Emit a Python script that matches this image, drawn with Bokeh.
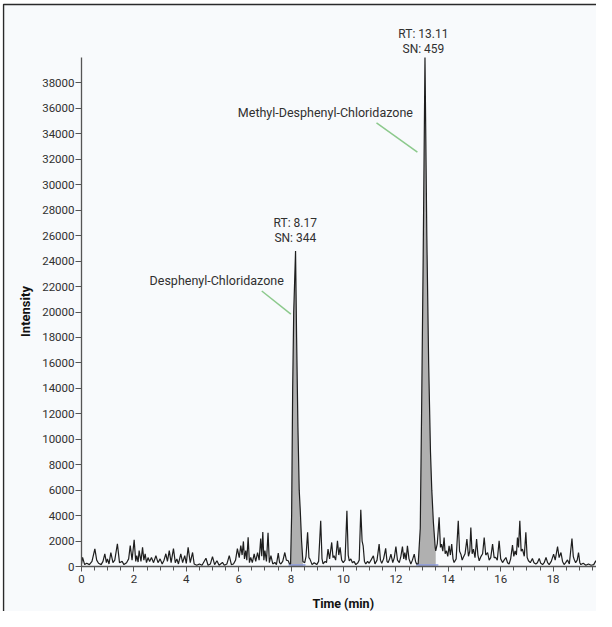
import math
import numpy as np
from bokeh.plotting import figure
from bokeh.models import Range1d, Label, FixedTicker
from bokeh.embed import file_html
from bokeh.resources import INLINE

# ---------------- data ----------------
time_min = [
    0.0, 0.04, 0.12, 0.2, 0.3, 0.4, 0.51, 0.58, 0.65, 0.75, 0.82, 0.89, 0.95, 0.99,
    1.05, 1.12, 1.2, 1.27, 1.37, 1.45, 1.55, 1.62, 1.72, 1.8, 1.86, 1.93,
    2.01, 2.07, 2.11, 2.16, 2.2, 2.27, 2.33, 2.38, 2.43, 2.48, 2.54, 2.6, 2.67, 2.75, 2.84, 2.92,
    3.0, 3.08, 3.15, 3.22, 3.28, 3.35, 3.42, 3.51, 3.58, 3.64, 3.7, 3.79, 3.86, 3.94,
    4.0, 4.07, 4.15, 4.24, 4.3, 4.4, 4.5, 4.6, 4.75, 4.83, 4.92,
    5.0, 5.08, 5.17, 5.25, 5.38, 5.45, 5.55, 5.64, 5.72, 5.8, 5.88, 5.95,
    6.02, 6.08, 6.13, 6.18, 6.22, 6.27, 6.31, 6.36, 6.41, 6.46, 6.52, 6.59, 6.65, 6.72, 6.78, 6.84, 6.88, 6.92, 6.96,
    7.0, 7.06, 7.12, 7.17, 7.23, 7.3, 7.38, 7.44, 7.51, 7.56, 7.61, 7.68, 7.76, 7.82, 7.89, 7.94, 7.98,
    8.02, 8.06, 8.1, 8.17, 8.21, 8.26, 8.31, 8.35, 8.4, 8.45,
    8.52, 8.57, 8.63, 8.68, 8.72, 8.8, 8.88, 8.98,
    9.05, 9.13, 9.18, 9.22, 9.3, 9.35, 9.41, 9.47, 9.55, 9.6, 9.64, 9.7, 9.77, 9.82, 9.87, 9.93, 9.99,
    10.06, 10.13, 10.18, 10.22, 10.28, 10.34, 10.4, 10.47, 10.55, 10.6, 10.66, 10.71, 10.75, 10.8, 10.85, 10.92, 10.98,
    11.05, 11.14, 11.2, 11.28, 11.36, 11.41, 11.46, 11.53, 11.61, 11.66, 11.7, 11.76, 11.81, 11.88, 11.94,
    12.0, 12.06, 12.13, 12.19, 12.25, 12.3, 12.34, 12.39, 12.44, 12.5, 12.57, 12.63, 12.7, 12.75, 12.79, 12.85,
    12.93, 12.98, 13.04, 13.11, 13.18, 13.25, 13.32, 13.37, 13.43, 13.5, 13.52,
    13.58, 13.65, 13.7, 13.74, 13.79, 13.84, 13.88, 13.93, 13.98,
    14.03, 14.08, 14.13, 14.18, 14.22, 14.3, 14.38, 14.43, 14.48, 14.53, 14.57, 14.64, 14.71, 14.77, 14.82, 14.86, 14.91, 14.96,
    15.02, 15.08, 15.13, 15.18, 15.25, 15.31, 15.37, 15.43, 15.5, 15.56, 15.62, 15.69, 15.75, 15.81, 15.87, 15.94,
    16.0, 16.07, 16.13, 16.2, 16.26, 16.32, 16.38, 16.45, 16.5, 16.55, 16.6, 16.64, 16.68, 16.73, 16.78, 16.83, 16.9, 16.96,
    17.01, 17.06, 17.13, 17.21, 17.27, 17.34, 17.4, 17.47, 17.53, 17.6, 17.66, 17.73, 17.79, 17.85, 17.93,
    18.02, 18.08, 18.17, 18.23, 18.3, 18.36, 18.42, 18.48, 18.55, 18.62, 18.72, 18.77, 18.8, 18.86, 18.92, 18.97,
    19.02, 19.06, 19.15, 19.25, 19.35, 19.45, 19.55, 19.63, 19.7, 19.76, 19.85, 19.95,
]
intensity = [
    200, 720, 150, 250, 150, 400, 1390, 500, 250, 150, 400, 990, 300, 600,
    200, 1100, 300, 500, 1790, 300, 400, 150, 300, 600, 1650, 500,
    2100, 400, 850, 350, 1250, 400, 1500, 500, 1000, 300, 700, 400, 700, 300, 850, 300,
    600, 200, 500, 1000, 400, 1250, 300, 1400, 300, 600, 200, 1000, 300, 850,
    250, 1500, 300, 1100, 200, 100, 200, 100, 650, 100, 200,
    770, 150, 450, 100, 320, 100, 200, 850, 150, 200, 500, 1400,
    700, 1650, 900, 1970, 600, 1250, 500, 2300, 300, 720, 300, 1000, 400, 1100, 500, 2200, 800, 2700, 500,
    1250, 400, 2650, 300, 850, 200, 320, 150, 1050, 300, 200, 400, 1100, 500, 450, 200, 200,
    4000, 14000, 20000, 24800, 18000, 11000, 6000, 4400, 2000, 400,
    300, 800, 2680, 700, 580, 150, 300, 150,
    400, 3600, 600, 200, 400, 300, 1360, 600, 1890, 700, 840, 500, 2020, 900, 1500, 500, 310,
    500, 4380, 900, 450, 600, 300, 400, 150, 300, 500, 4460, 2000, 1630, 400, 200, 400, 250,
    500, 840, 200, 500, 1760, 500, 250, 600, 1420, 400, 300, 600, 970, 300, 700,
    1570, 500, 300, 800, 1570, 600, 1100, 500, 1630, 600, 200, 500, 970, 400, 200, 200,
    3000, 12000, 24000, 40000, 26000, 16000, 9000, 6000, 3500, 1500, 1230,
    1800, 3860, 1500, 1760, 1200, 2280, 1000, 1230, 800,
    1630, 900, 1760, 600, 310, 600, 3600, 1200, 970, 500, 700, 1000, 2150, 800, 1200, 3070, 1000, 1360,
    700, 2150, 900, 450, 800, 1000, 2280, 900, 1100, 500, 700, 1760, 700, 710, 500, 2020,
    600, 310, 500, 710, 300, 200, 600, 1680, 800, 1230, 900, 2280, 1500, 3600, 1200, 1360, 800, 2680,
    700, 450, 300, 630, 300, 200, 300, 630, 250, 150, 300, 710, 300, 150, 400,
    970, 500, 1570, 700, 1100, 400, 150, 300, 520, 200, 2200, 800, 580, 300, 500, 1100,
    300, 150, 250, 100, 200, 100, 150, 450, 150, 100, 150, 100,
]
# integrated peak windows (start, end) in minutes
peak_start = [7.98, 12.85]
peak_end = [8.45, 13.52]
peak_rt = ["RT: 8.17", "RT: 13.11"]
peak_sn = ["SN: 344", "SN: 459"]
compound_names = ["Desphenyl-Chloridazone", "Methyl-Desphenyl-Chloridazone"]

y_ticks = list(range(0, 40000, 2000))
x_ticks = list(range(0, 20, 2))
x_minor = [i * 0.5 for i in range(0, 40)]

FONT = "Roboto"
TXT = "#303030"
BG = "#f8fafc"

# ---------------- geometry (screen pixels inside the figure) ----------------
W, H = 596, 611
FRAME_L, FRAME_T = 2, 2            # frame starts almost at the figure corner
X0_PX, Y0_PX = 81, 566             # where time 0 / intensity 0 fall
PX_PER_MIN = 26.2
PX_PER_UNIT = 509.0 / 40000.0
BOX_L_PX, BOX_T_PX = 3, 4          # outer panel border

x_start = (FRAME_L - X0_PX) / PX_PER_MIN
x_end = (W - X0_PX) / PX_PER_MIN
y_end = (Y0_PX - FRAME_T) / PX_PER_UNIT
y_start = (Y0_PX - H) / PX_PER_UNIT
box_x = (BOX_L_PX - X0_PX) / PX_PER_MIN
box_y = (Y0_PX - BOX_T_PX) / PX_PER_UNIT

t = np.array(time_min, dtype=float)
v = np.array(intensity, dtype=float)

p = figure(width=W, height=H, output_backend="svg", toolbar_location=None,
           x_range=Range1d(x_start, x_end), y_range=Range1d(y_start, y_end),
           min_border_left=FRAME_L, min_border_right=0, min_border_top=FRAME_T,
           min_border_bottom=0)
p.background_fill_color = "white"
p.border_fill_color = "white"
p.outline_line_color = None
p.xgrid.visible = False
p.ygrid.visible = False

# panel background and border (left + top edges are visible)
p.quad(left=box_x, right=x_end + 1, bottom=y_start - 1000, top=box_y,
       fill_color=BG, line_color=None, level="underlay")
p.line(x=[box_x, box_x, x_end + 1], y=[y_start - 1000, box_y, box_y],
       line_color="#2a2a2a", line_width=1.5)

# grey filled integrated peaks and blue baselines
for s, e in zip(peak_start, peak_end):
    m = (t >= s) & (t <= e)
    p.varea(x=t[m], y1=0, y2=v[m], fill_color="#b0b0b0")
    p.line(x=[s - 0.08, e + 0.1], y=[120, 120], line_color="#8c9be0", line_width=1.5)

p.line(x=t, y=v, line_color="#1e1e1e", line_width=1.2)

# axes drawn at time 0 / intensity 0
for ax in (p.xaxis[0], p.yaxis[0]):
    ax.fixed_location = 0
    ax.axis_line_color = "#555555"
    ax.axis_line_width = 1.3
    ax.major_tick_line_color = "#555555"
    ax.minor_tick_line_color = "#555555"
    ax.major_tick_in = 0
    ax.minor_tick_in = 0
    ax.major_label_text_font = FONT
    ax.major_label_text_font_size = "11.5px"
    ax.major_label_text_color = TXT

p.xaxis.ticker = FixedTicker(ticks=x_ticks, minor_ticks=x_minor)
p.xaxis.bounds = (0, x_end)
p.xaxis.major_tick_out = 5
p.xaxis.minor_tick_out = 4
p.xaxis.major_label_standoff = 3

p.yaxis.ticker = FixedTicker(ticks=y_ticks, minor_ticks=[])
p.yaxis.bounds = (0, 40000)
p.yaxis.major_tick_out = 6
p.yaxis.minor_tick_out = 0
p.yaxis.major_label_standoff = 1

# axis titles
p.add_layout(Label(x=(350.7 - 8 - X0_PX) / PX_PER_MIN, y=(Y0_PX - 602.5) / PX_PER_UNIT,
                   text="Time (min)", text_align="center", text_baseline="middle",
                   text_font=FONT, text_font_size="12.5px", text_font_style="bold",
                   text_color="#111111"))
p.add_layout(Label(x=(33 - 8 - X0_PX) / PX_PER_MIN, y=(Y0_PX - (319 - 8)) / PX_PER_UNIT,
                   text="Intensity", text_align="center", text_baseline="middle",
                   angle=math.pi / 2, text_font=FONT, text_font_size="13px",
                   text_font_style="bold", text_color="#111111"))

# peak annotations
rt_pos = [(8.16, 27000), (13.05, 41850)]
for (x, y), rt, sn in zip(rt_pos, peak_rt, peak_sn):
    p.add_layout(Label(x=x, y=y, text=rt, text_align="center", text_baseline="middle",
                       text_font=FONT, text_font_size="12px", text_color=TXT))
    p.add_layout(Label(x=x, y=y - 1150, text=sn, text_align="center", text_baseline="middle",
                       text_font=FONT, text_font_size="12px", text_color=TXT))

name_pos = [(5.16, 22500), (9.31, 35700)]
for (x, y), name in zip(name_pos, compound_names):
    p.add_layout(Label(x=x, y=y, text=name, text_align="center", text_baseline="middle",
                       text_font=FONT, text_font_size="12.5px", text_color=TXT))

p.segment(x0=[6.88, 11.26], y0=[21650, 34860], x1=[7.99, 12.82], y1=[19830, 32560],
          line_color="#8cc98c", line_width=1.5)

open("out.html", "w").write(file_html(p, INLINE))
